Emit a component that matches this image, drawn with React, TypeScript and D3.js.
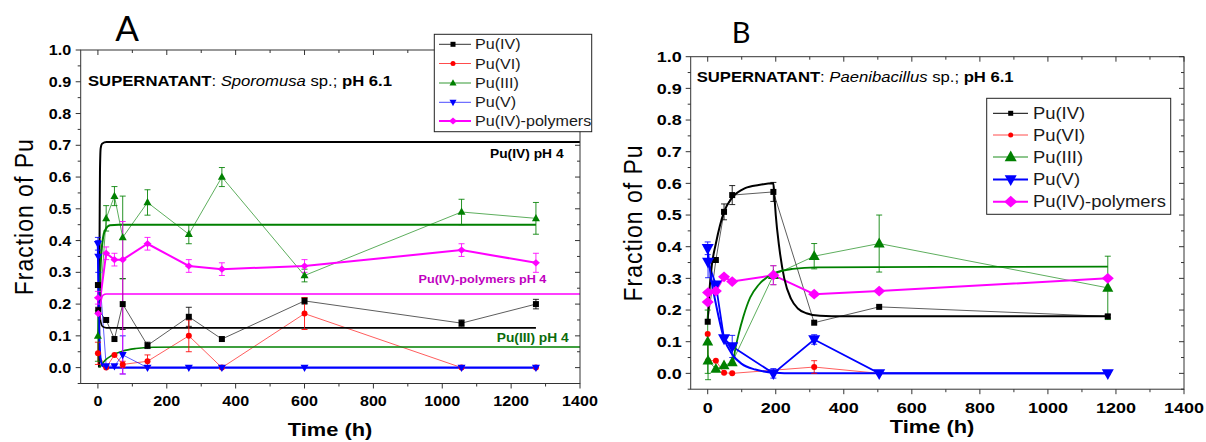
import React from 'react';
import * as d3 from 'd3';

type Pt = [number, number, number, number]; // time (h), fraction, error down, error up
type FP = [number, number]; // fitted curve point

// ---------- shared labels / ticks ----------
const seriesNames = ['Pu(IV)', 'Pu(VI)', 'Pu(III)', 'Pu(V)', 'Pu(IV)-polymers'];
const xTicksMajor = [0, 200, 400, 600, 800, 1000, 1200, 1400];
const xTicksMinor = [100, 300, 500, 700, 900, 1100, 1300];
const yTicksMajor = [0, 0.1, 0.2, 0.3, 0.4, 0.5, 0.6, 0.7, 0.8, 0.9, 1.0];
const yTicksMinor = [-0.05, 0.05, 0.15, 0.25, 0.35, 0.45, 0.55, 0.65, 0.75, 0.85, 0.95];
const xDomain: [number, number] = [-50, 1400];
const yDomain: [number, number] = [-0.05, 1.0];

// ---------- Panel A: Sporomusa sp. ----------
const A_PuIV: Pt[] = [[0, 0.26, 0, 0], [1, 0.18, 0.01, 0.01], [24, 0.15, 0, 0], [48, 0.09, 0, 0], [72, 0.20, 0.08, 0.08], [144, 0.07, 0.01, 0.01], [264, 0.16, 0.03, 0.03], [360, 0.09, 0, 0], [600, 0.21, 0.01, 0.01], [1056, 0.14, 0.01, 0.01], [1272, 0.20, 0.015, 0.015]];
const A_PuVI: Pt[] = [[0, 0.045, 0.035, 0.035], [24, 0.0, 0, 0], [48, 0.04, 0, 0], [72, 0.01, 0.01, 0.01], [144, 0.02, 0.02, 0.02], [264, 0.10, 0.05, 0.05], [360, 0.0, 0, 0], [600, 0.17, 0.05, 0.05], [1056, 0.0, 0, 0], [1272, 0.0, 0, 0]];
const A_PuIII: Pt[] = [[0, 0.10, 0.08, 0.08], [24, 0.47, 0.04, 0.04], [48, 0.54, 0.03, 0.03], [72, 0.41, 0.13, 0.13], [144, 0.52, 0.04, 0.04], [264, 0.42, 0.03, 0.03], [360, 0.60, 0.03, 0.03], [600, 0.29, 0.02, 0.02], [1056, 0.49, 0.04, 0.04], [1272, 0.47, 0.05, 0.05]];
const A_PuV: Pt[] = [[0, 0.39, 0.02, 0.02], [1, 0.35, 0.05, 0.05], [24, 0.005, 0, 0], [48, 0.005, 0, 0], [72, 0.04, 0.06, 0.06], [144, 0.0, 0, 0], [264, 0.0, 0, 0], [360, 0.0, 0, 0], [600, 0.0, 0, 0], [1056, 0.0, 0, 0], [1272, 0.0, 0, 0]];
const A_PuPoly: Pt[] = [[0, 0.22, 0.02, 0.02], [1, 0.17, 0, 0], [24, 0.36, 0.02, 0.02], [48, 0.34, 0.02, 0.02], [72, 0.34, 0.36, 0.12], [144, 0.39, 0.02, 0.02], [264, 0.32, 0.02, 0.02], [360, 0.31, 0.02, 0.02], [600, 0.32, 0.02, 0.02], [1056, 0.37, 0.02, 0.02], [1272, 0.33, 0.03, 0.03]];

const A_fitIV_pH4: FP[] = [[3, 0.0], [5, 0.45], [6, 0.62], [8, 0.69], [12, 0.705], [25, 0.71], [1400, 0.71]];
const A_fitIV: FP[] = [[3, 0.30], [5, 0.19], [8, 0.145], [14, 0.129], [25, 0.125], [1272, 0.125]];
const A_fitIII: FP[] = [[1, 0.10], [5, 0.25], [10, 0.36], [15, 0.41], [22, 0.435], [35, 0.448], [60, 0.45], [1272, 0.45]];
const A_fitIII_pH4: FP[] = [[5, 0.0], [20, 0.022], [40, 0.038], [72, 0.052], [110, 0.06], [160, 0.064], [250, 0.065], [1400, 0.065]];
const A_fitPoly_pH4: FP[] = [[5, 0.15], [7, 0.19], [10, 0.215], [15, 0.228], [25, 0.232], [1400, 0.232]];
const A_fitV: FP[] = [[0, 0.39], [2, 0.2], [5, 0.07], [8, 0.025], [14, 0.005], [25, 0.0], [1272, 0.0]];

// ---------- Panel B: Paenibacillus sp. ----------
const B_PuIV: Pt[] = [[0, 0.163, 0, 0], [24, 0.358, 0, 0], [48, 0.51, 0.025, 0.025], [72, 0.563, 0.03, 0.03], [193, 0.573, 0.03, 0.03], [313, 0.16, 0, 0], [504, 0.21, 0, 0], [1176, 0.18, 0.005, 0.005]];
const B_PuVI: Pt[] = [[0, 0.124, 0, 0], [1, 0.04, 0, 0], [24, 0.04, 0, 0], [48, 0.002, 0, 0], [72, 0.0, 0, 0], [313, 0.02, 0.02, 0.02], [504, 0.0, 0, 0], [1176, 0.0, 0, 0]];
const B_PuIII: Pt[] = [[0, 0.10, 0.1, 0.1], [1, 0.04, 0.06, 0.06], [24, 0.014, 0, 0], [48, 0.025, 0, 0], [72, 0.035, 0, 0], [193, 0.31, 0.03, 0.03], [313, 0.37, 0.04, 0.04], [504, 0.41, 0.09, 0.09], [1176, 0.27, 0.1, 0.1]];
const B_PuV: Pt[] = [[0, 0.395, 0.02, 0.02], [1, 0.352, 0.05, 0.05], [24, 0.28, 0, 0], [48, 0.11, 0, 0], [72, 0.085, 0.035, 0.035], [193, 0.0, 0.015, 0.015], [313, 0.107, 0.015, 0.015], [504, 0.0, 0, 0], [1176, 0.0, 0, 0]];
const B_PuPoly: Pt[] = [[0, 0.225, 0, 0], [1, 0.255, 0, 0], [24, 0.26, 0, 0], [48, 0.305, 0, 0], [72, 0.29, 0, 0], [193, 0.31, 0.03, 0.03], [313, 0.25, 0, 0], [504, 0.26, 0, 0], [1176, 0.30, 0, 0]];

const B_fitIV: FP[] = [[0, 0.17], [5, 0.26], [12, 0.34], [24, 0.41], [48, 0.51], [72, 0.555], [110, 0.585], [150, 0.595], [193, 0.6], [196, 0.56], [200, 0.5], [210, 0.4], [225, 0.3], [245, 0.235], [265, 0.205], [290, 0.19], [330, 0.182], [400, 0.18], [1176, 0.18]];
const B_fitIII: FP[] = [[75, 0.035], [80, 0.07], [90, 0.12], [105, 0.18], [125, 0.24], [150, 0.28], [193, 0.315], [250, 0.33], [320, 0.335], [1176, 0.337]];
const B_fitV: FP[] = [[0, 0.39], [10, 0.3], [24, 0.22], [48, 0.11], [72, 0.06], [100, 0.03], [140, 0.012], [200, 0.002], [250, 0.0], [1176, 0.0]];

// ---------- styling ----------
const FONT = "'Liberation Sans', Arial, Helvetica, sans-serif";
const SX = 1.15;
const C = { k: '#000000', r: '#ff0000', g: '#008000', b: '#0000ff', m: '#ff00ff' };

type Shape = 'square' | 'circle' | 'up' | 'down' | 'diamond';

function Marker({ shape, x, y, s, color }: { shape: Shape; x: number; y: number; s: number; color: string }) {
  if (shape === 'square') return <rect x={x - s / 2} y={y - s / 2} width={s} height={s} fill={color} />;
  if (shape === 'circle') return <circle cx={x} cy={y} r={s / 2} fill={color} />;
  if (shape === 'up') return <path d={`M${x},${y - s * 0.55}L${x + s / 2},${y + s * 0.35}L${x - s / 2},${y + s * 0.35}Z`} fill={color} />;
  if (shape === 'down') return <path d={`M${x},${y + s * 0.55}L${x + s / 2},${y - s * 0.35}L${x - s / 2},${y - s * 0.35}Z`} fill={color} />;
  return <path d={`M${x},${y - s * 0.45}L${x + s / 2},${y}L${x},${y + s * 0.45}L${x - s / 2},${y}Z`} fill={color} />;
}

function ST(props: any) {
  const { x, y, size, weight = 'normal', anchor = 'start', fill = '#000', sx = SX, children, ls } = props;
  return (
    <text transform={`translate(${x},${y}) scale(${sx},1)`} fontSize={size} fontWeight={weight}
      textAnchor={anchor} fill={fill} fontFamily={FONT} letterSpacing={ls}>{children}</text>
  );
}

type Series = { data: Pt[]; color: string; shape: Shape; size: number; lw: number; op: number };
type Fit = { data: FP[]; color: string; lw: number };

function Panel(props: any) {
  const { L, R, T, B, series, fits, tickSize, tickSx, xLabelDy, yLabelDx, xTitleX, xTitleY, yTitleX } = props as {
    L: number; R: number; T: number; B: number; series: Series[]; fits: Fit[]; tickSize: number; tickSx: number;
    xLabelDy: number; yLabelDx: number; xTitleX: number; xTitleY: number; yTitleX: number;
  };
  const x = d3.scaleLinear().domain(xDomain).range([L, R]);
  const y = d3.scaleLinear().domain(yDomain).range([B, T]);
  const line = d3.line<any>().x((d) => x(d[0])).y((d) => y(d[1]));
  const fitLine = d3.line<FP>().x((d) => x(d[0])).y((d) => y(d[1])).curve(d3.curveMonotoneX);
  const ax = '#333';
  const fmt = d3.format('.1f');
  const yMid = (T + B) / 2;
  return (
    <g>
      {series.map((s, i) => (
        <path key={'l' + i} d={line(s.data) || ''} fill="none" stroke={s.color} strokeWidth={s.lw} strokeOpacity={s.op} />
      ))}
      {fits.map((f, i) => (
        <path key={'f' + i} d={fitLine(f.data) || ''} fill="none" stroke={f.color} strokeWidth={f.lw} />
      ))}
      {series.map((s, i) => (
        <g key={'e' + i} stroke={s.color} strokeWidth={1} strokeOpacity={0.85}>
          {s.data.filter((d) => d[2] > 0 || d[3] > 0).map((d, j) => {
            const cx = x(d[0]);
            const y0 = y(d[1] - d[2]);
            const y1 = y(d[1] + d[3]);
            return (
              <g key={j}>
                <line x1={cx} x2={cx} y1={y0} y2={y1} />
                <line x1={cx - 3} x2={cx + 3} y1={y0} y2={y0} />
                <line x1={cx - 3} x2={cx + 3} y1={y1} y2={y1} />
              </g>
            );
          })}
        </g>
      ))}
      {series.map((s, i) => (
        <g key={'m' + i}>
          {s.data.map((d, j) => <Marker key={j} shape={s.shape} x={x(d[0])} y={y(d[1])} s={s.size} color={s.color} />)}
        </g>
      ))}
      <rect x={L} y={T} width={R - L} height={B - T} fill="none" stroke={ax} strokeWidth={1} />
      <g stroke={ax} strokeWidth={1}>
        {yTicksMajor.map((v) => (
          <g key={'ym' + v}>
            <line x1={L - 5} x2={L} y1={y(v)} y2={y(v)} />
            <line x1={R - 5} x2={R} y1={y(v)} y2={y(v)} />
          </g>
        ))}
        {yTicksMinor.map((v) => (
          <g key={'yn' + v}>
            <line x1={L - 3} x2={L} y1={y(v)} y2={y(v)} />
            <line x1={R - 3} x2={R} y1={y(v)} y2={y(v)} />
          </g>
        ))}
        {xTicksMajor.map((v) => (
          <g key={'xm' + v}>
            <line x1={x(v)} x2={x(v)} y1={B} y2={B + 5} />
            <line x1={x(v)} x2={x(v)} y1={T} y2={T + 5} />
          </g>
        ))}
        {xTicksMinor.map((v) => (
          <g key={'xn' + v}>
            <line x1={x(v)} x2={x(v)} y1={B} y2={B + 3} />
            <line x1={x(v)} x2={x(v)} y1={T} y2={T + 3} />
          </g>
        ))}
      </g>
      {yTicksMajor.map((v) => (
        <ST key={'yl' + v} x={L - yLabelDx} y={y(v) + tickSize * 0.36} size={tickSize} sx={tickSx} weight="bold" anchor="end">{fmt(v)}</ST>
      ))}
      {xTicksMajor.map((v) => (
        <ST key={'xl' + v} x={x(v)} y={B + xLabelDy} size={tickSize} sx={tickSx} weight="bold" anchor="middle">{String(v)}</ST>
      ))}
      <ST x={xTitleX} y={xTitleY} size={19} weight="bold" anchor="middle">Time (h)</ST>
      <text transform={`translate(${yTitleX},${yMid}) rotate(-90) scale(1,1.15)`} fontSize={23} letterSpacing={1}
        textAnchor="middle" fontFamily={FONT} fill="#000">Fraction of Pu</text>
    </g>
  );
}

function Legend(props: any) {
  const { x0, y0, w, h, rows, lineX1, lineX2, markX, textX, size, items } = props;
  return (
    <g>
      <rect x={x0} y={y0} width={w} height={h} fill="#fff" stroke="#222" strokeWidth={1} />
      {items.map((it: any, i: number) => (
        <g key={i}>
          <line x1={lineX1} x2={lineX2} y1={rows[i]} y2={rows[i]} stroke={it.color} strokeWidth={it.lw} strokeOpacity={it.op} />
          <Marker shape={it.shape} x={markX} y={rows[i]} s={it.size} color={it.color} />
          <ST x={textX} y={rows[i] + size * 0.36} size={size} fill="#1a1a1a">{seriesNames[i]}</ST>
        </g>
      ))}
    </g>
  );
}

export default function App() {
  const seriesA: Series[] = [
    { data: A_PuIV, color: C.k, shape: 'square', size: 6, lw: 0.8, op: 0.8 },
    { data: A_PuVI, color: C.r, shape: 'circle', size: 6, lw: 0.8, op: 0.8 },
    { data: A_PuIII, color: C.g, shape: 'up', size: 8, lw: 0.8, op: 0.8 },
    { data: A_PuV, color: C.b, shape: 'down', size: 8, lw: 0.8, op: 0.8 },
    { data: A_PuPoly, color: C.m, shape: 'diamond', size: 8, lw: 2, op: 1 },
  ];
  const fitsA: Fit[] = [
    { data: A_fitIV_pH4, color: C.k, lw: 2 },
    { data: A_fitIV, color: C.k, lw: 1.6 },
    { data: A_fitIII, color: C.g, lw: 2 },
    { data: A_fitIII_pH4, color: C.g, lw: 1.6 },
    { data: A_fitPoly_pH4, color: C.m, lw: 1.6 },
    { data: A_fitV, color: C.b, lw: 2.2 },
  ];
  const seriesB: Series[] = [
    { data: B_PuIV, color: C.k, shape: 'square', size: 6, lw: 0.8, op: 0.8 },
    { data: B_PuVI, color: C.r, shape: 'circle', size: 6, lw: 0.8, op: 0.8 },
    { data: B_PuIII, color: C.g, shape: 'up', size: 11, lw: 0.8, op: 0.8 },
    { data: B_PuV, color: C.b, shape: 'down', size: 12, lw: 1.8, op: 1 },
    { data: B_PuPoly, color: C.m, shape: 'diamond', size: 12, lw: 2, op: 1 },
  ];
  const fitsB: Fit[] = [
    { data: B_fitIV, color: C.k, lw: 2 },
    { data: B_fitIII, color: C.g, lw: 1.8 },
    { data: B_fitV, color: C.b, lw: 2 },
  ];
  const legA = [
    { color: C.k, shape: 'square', size: 5, lw: 1, op: 0.8 },
    { color: C.r, shape: 'circle', size: 5, lw: 1, op: 0.7 },
    { color: C.g, shape: 'up', size: 7, lw: 1, op: 0.8 },
    { color: C.b, shape: 'down', size: 7, lw: 1, op: 0.7 },
    { color: C.m, shape: 'diamond', size: 8, lw: 2, op: 1 },
  ];
  const legB = [
    { color: C.k, shape: 'square', size: 5, lw: 1, op: 1 },
    { color: C.r, shape: 'circle', size: 5, lw: 1, op: 0.7 },
    { color: C.g, shape: 'up', size: 12, lw: 1.5, op: 0.6 },
    { color: C.b, shape: 'down', size: 12, lw: 2, op: 1 },
    { color: C.m, shape: 'diamond', size: 13, lw: 2, op: 1 },
  ];
  return (
    <svg width={1206} height={442} style={{ position: 'absolute', left: 0, top: 0, background: '#fff' }}>
      <rect width={1206} height={442} fill="#fff" />
      <text x={127} y={40.5} fontSize={35} fontFamily="Lato, 'Open Sans', sans-serif" textAnchor="middle">A</text>
      <Panel L={80.7} R={580} T={50} B={383.5} series={seriesA} fits={fitsA} tickSize={14} tickSx={1.15}
        xLabelDy={22.5} yLabelDx={9.5} xTitleX={330} xTitleY={436} yTitleX={33} />
      <ST x={88} y={86} size={14.5}>
        <tspan fontWeight="bold">SUPERNATANT</tspan>: <tspan fontStyle="italic">Sporomusa</tspan> sp.; <tspan fontWeight="bold">pH 6.1</tspan>
      </ST>
      <ST x={490} y={158} size={12} weight="bold">Pu(IV) pH 4</ST>
      <ST x={418.5} y={283.3} size={11.5} weight="bold" sx={1.1} fill="#c000c0">Pu(IV)-polymers pH 4</ST>
      <ST x={496.7} y={341.7} size={12} weight="bold" fill="#0b6b0b">Pu(III) pH 4</ST>
      <Legend x0={434.3} y0={34.3} w={157.4} h={97.4} rows={[44.3, 63.5, 83, 102.3, 121]}
        lineX1={439} lineX2={471} markX={453} textX={475} size={14} items={legA} />

      <text x={741} y={42.5} fontSize={29} fontFamily="Lato, 'Open Sans', sans-serif" textAnchor="middle">B</text>
      <Panel L={690.7} R={1184} T={56.7} B={389.2} series={seriesB} fits={fitsB} tickSize={15} tickSx={1.2}
        xLabelDy={24} yLabelDx={9} xTitleX={932} xTitleY={433} yTitleX={642} />
      <ST x={696.7} y={81.7} size={14.5}>
        <tspan fontWeight="bold">SUPERNATANT</tspan>: <tspan fontStyle="italic">Paenibacillus</tspan> sp.; <tspan fontWeight="bold">pH 6.1</tspan>
      </ST>
      <Legend x0={986.7} y0={98.3} w={184} h={116} rows={[113.3, 135, 157, 179.5, 201.7]}
        lineX1={993} lineX2={1028} markX={1010.7} textX={1033} size={16} items={legB} />
    </svg>
  );
}
